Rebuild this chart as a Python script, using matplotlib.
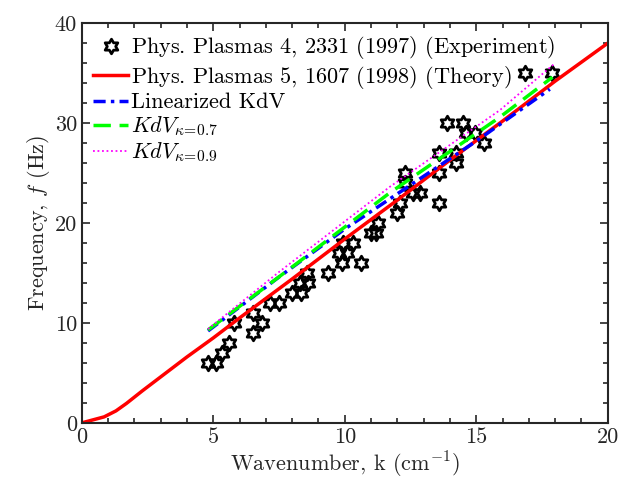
import matplotlib
matplotlib.use("Agg")
import matplotlib.pyplot as plt
from matplotlib.path import Path
import numpy as np

plt.rcParams['font.family'] = 'serif'
plt.rcParams['font.serif'] = ['cmr10']
plt.rcParams['mathtext.fontset'] = 'cm'
plt.rcParams['axes.unicode_minus'] = False

# experiment (wavenumber cm^-1, frequency Hz)
k_exp = [4.8, 5.1, 5.35, 5.6, 5.8, 6.5, 6.5, 6.85, 7.15, 7.5,
         8.0, 8.35, 8.3, 8.6, 8.55, 9.35, 9.8, 10.1, 9.9, 9.95,
         10.3, 10.6, 11.0, 11.2, 11.25, 12.0, 12.1, 12.3, 12.3, 12.6,
         12.85, 13.6, 13.6, 13.6, 14.25, 14.25, 13.9, 14.5, 14.6, 14.95,
         15.3, 16.85, 17.9]
f_exp = [6, 6, 7, 8, 10, 11, 9, 10, 12, 12,
         13, 13, 14, 14, 15, 15, 17, 17, 16, 18,
         18, 16, 19, 19, 20, 21, 22, 25, 24, 23,
         23, 22, 25, 27, 27, 26, 30, 30, 29, 29,
         28, 35, 35]

# theory (1998)
k_th = [0, 0.85, 1.3, 1.7, 2.3, 3, 4, 5, 6, 8, 10, 12, 14, 16, 18, 20]
f_th = [0, 0.6, 1.2, 1.95, 3.2, 4.6, 6.6, 8.5, 10.5, 14.4, 18.4, 22.3, 26.3, 30.2, 34.2, 38.0]

# linearized KdV
k_lin = [4.8, 7.5, 10, 12.5, 15, 17.8]
f_lin = [9.2, 14.6, 19.4, 23.8, 28.2, 33.4]

# KdV kappa=0.7
k_07 = [4.8, 8, 11.7, 15.9, 17.9]
f_07 = [9.3, 15.6, 23.0, 30.6, 34.6]

# KdV kappa=0.9
k_09 = [4.8, 7.5, 11.7, 15.9, 18.0]
f_09 = [9.4, 15.1, 23.6, 31.3, 36.0]

hexagram = Path.unit_regular_star(6, 0.57735)
axcol = '#262626'

fig = plt.figure(figsize=(6.39, 4.94), dpi=100)
ax = fig.add_axes([0.128, 0.144, 0.823, 0.809])

ax.plot(k_exp, f_exp, linestyle='none', marker=hexagram, markersize=10.5,
        markerfacecolor='none', markeredgecolor='k', markeredgewidth=2,
        label=r'Phys. Plasmas $\mathbf{4}$, 2331 (1997) (Experiment)')
ax.plot(k_th, f_th, color='red', lw=2.5,
        label=r'Phys. Plasmas $\mathbf{5}$, 1607 (1998) (Theory)')
ax.plot(k_lin, f_lin, color='blue', lw=2.5, linestyle=(0, (3.5, 1.5, 1, 1.5)),
        label='Linearized KdV')
ax.plot(k_07, f_07, color='#00ff00', lw=2.5, linestyle=(0, (5, 2.5)),
        label=r'$KdV_{\kappa\!=\!0.7}$')
ax.plot(k_09, f_09, color='magenta', lw=1.3, linestyle=(0, (1, 1.5)),
        label=r'$KdV_{\kappa\!=\!0.9}$')

ax.set_xlim(0, 20)
ax.set_ylim(0, 40)
ax.set_xticks([0, 5, 10, 15, 20])
ax.set_yticks([0, 10, 20, 30, 40])
ax.set_xticks(np.arange(0, 21, 1), minor=True)
ax.set_yticks(np.arange(0, 41, 2), minor=True)
ax.tick_params(which='both', direction='in', top=True, right=True,
               colors=axcol, width=1.2, labelsize=16, labelcolor=axcol)
ax.tick_params(which='major', length=6)
ax.tick_params(which='minor', length=3.5)
for s in ax.spines.values():
    s.set_linewidth(1.5)
    s.set_color(axcol)

ax.set_xlabel(r'Wavenumber, k (cm$^{-1}$)', fontsize=16, color=axcol, labelpad=2)
ax.set_ylabel(r'Frequency, $f$ (Hz)', fontsize=16, color=axcol, labelpad=2)

ax.legend(loc='upper left', frameon=False, fontsize=16, handlelength=1.6,
          handletextpad=0.1, labelspacing=0.1, borderaxespad=0.3,
          borderpad=0.2)

fig.savefig('out.png', dpi=100)
